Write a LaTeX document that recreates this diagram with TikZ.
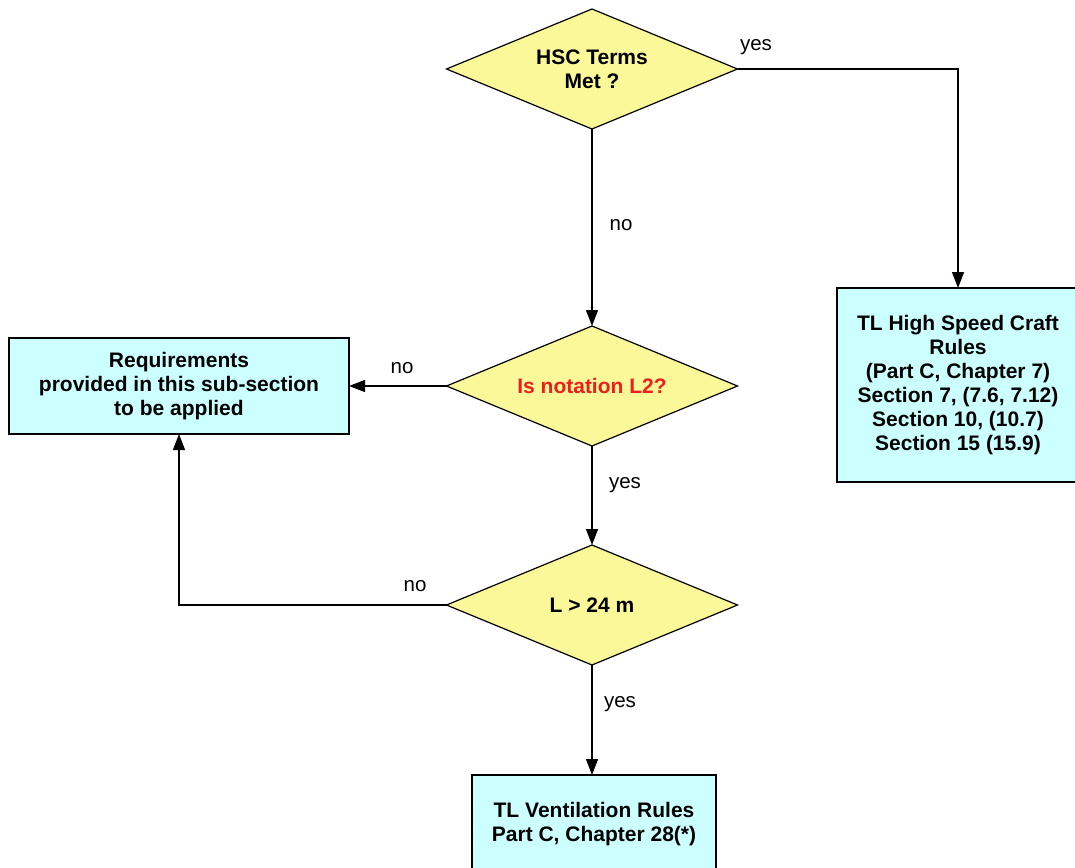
\documentclass[tikz,border=0pt]{standalone}
\usepackage{fontspec}
\setmainfont{Liberation Sans}
\usetikzlibrary{shapes.geometric,arrows.meta}
\definecolor{dyellow}{RGB}{250,248,152}
\definecolor{bcyan}{RGB}{204,255,255}
\definecolor{qred}{RGB}{235,32,28}
\begin{document}
\begin{tikzpicture}[x=1pt,y=-1pt,
  decision/.style={diamond,draw=black,fill=dyellow,line width=1.2pt,inner sep=0pt,outer sep=0pt,
    minimum width=291pt,minimum height=120pt,aspect=2.42,
    font=\fontsize{21}{24}\selectfont\bfseries,align=center},
  action/.style={rectangle,draw=black,fill=bcyan,line width=1.2pt,inner sep=0pt,outer sep=0pt,
    font=\fontsize{21}{24}\selectfont\bfseries,align=center},
  lbl/.style={font=\fontsize{20.5}{24}\selectfont,inner sep=0pt},
  conn/.style={draw=black,line width=1.2pt,-{Triangle[length=16pt,width=12pt]}}]
\useasboundingbox (0,0) rectangle (1075,867);
\node[decision] (d1) at (592,69) {HSC Terms\\Met ?};
\node[decision] (d2) at (592,386) {\textcolor{qred}{Is notation L2?}};
\node[decision] (d3) at (592,605) {L > 24 m};
\node[action,minimum width=242pt,minimum height=194pt] (hsc) at (958,385) {TL High Speed Craft\\Rules\\(Part C, Chapter 7)\\Section 7, (7.6, 7.12)\\Section 10, (10.7)\\Section 15 (15.9)};
\node[action,minimum width=340pt,minimum height=96pt] (req) at (179,386) {Requirements\\provided in this sub-section\\to be applied};
\node[action,minimum width=244pt,minimum height=98pt] (vent) at (594,824) {TL Ventilation Rules\\Part C, Chapter 28(*)};
\coordinate (c1) at (958,69);
\coordinate (c2) at (179,605);
\draw[conn] (d1.east) -- (c1) -- (hsc.north);
\draw[conn] (d1.south) -- (d2.north);
\draw[conn] (d2.west) -- (req.east);
\draw[conn] (d2.south) -- (d3.north);
\draw[conn] (d3.west) -- (c2) -- (req.south);
\draw[conn] (d3.south) -- (vent.north -| d3.south);
\node[lbl] (l1) at (756,47) {yes};
\node[lbl] (l2) at (621,225) {no};
\node[lbl] (l3) at (402,368) {no};
\node[lbl] (l4) at (625,485) {yes};
\node[lbl] (l5) at (415,586) {no};
\node[lbl] (l6) at (620,704) {yes};
\end{tikzpicture}
\end{document}
